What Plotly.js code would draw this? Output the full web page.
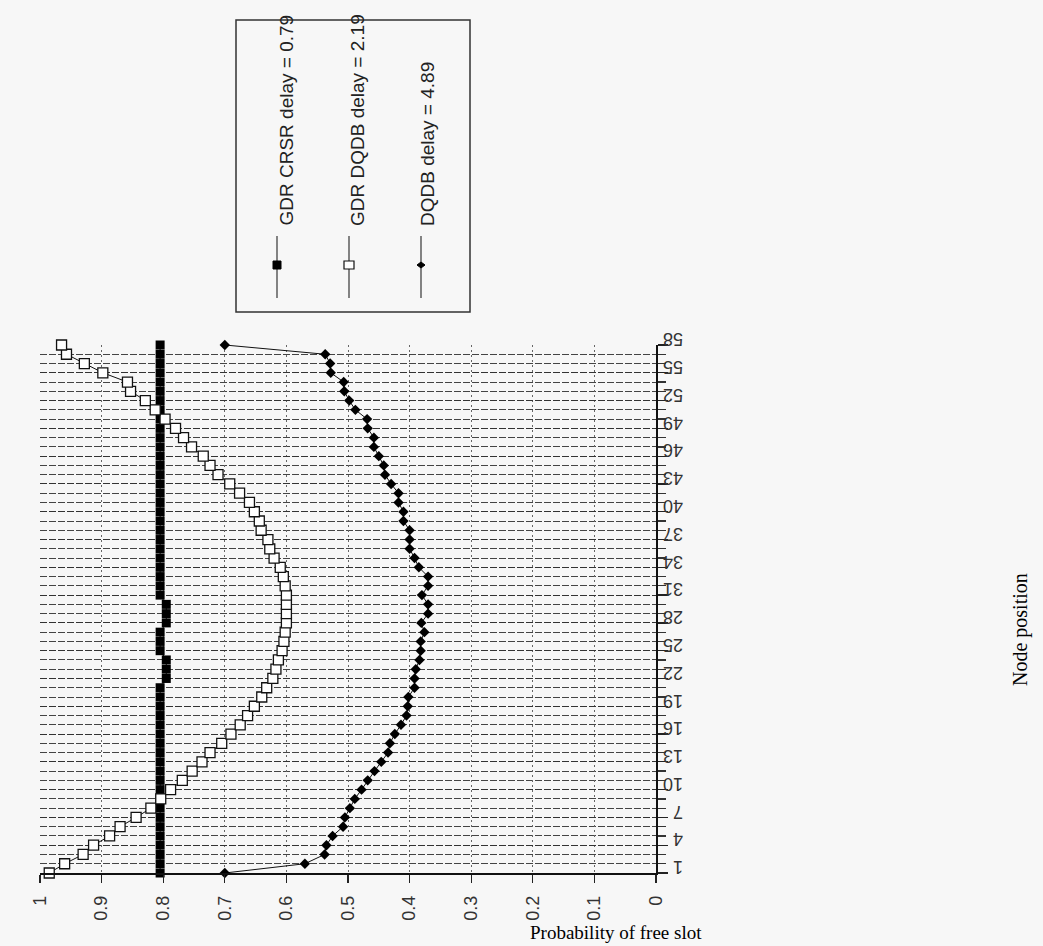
<!DOCTYPE html>
<html><head><meta charset="utf-8">
<script src="https://cdn.plot.ly/plotly-3.0.1.min.js"></script>
<style>html,body{margin:0;padding:0;background:#f7f7f7;}</style>
</head><body><div id="chart" style="width:1043px;height:946px;"></div>
<script>
// ---- data ----
const nodePosition = [1,2,3,4,5,6,7,8,9,10,11,12,13,14,15,16,17,18,19,20,21,22,23,24,25,26,27,28,29,30,31,32,33,34,35,36,37,38,39,40,41,42,43,44,45,46,47,48,49,50,51,52,53,54,55,56,57,58];
const gdrCrsr = [0.805,0.805,0.805,0.805,0.805,0.805,0.805,0.805,0.805,0.805,0.805,0.805,0.805,0.805,0.805,0.805,0.805,0.805,0.805,0.805,0.805,0.795,0.795,0.795,0.805,0.805,0.805,0.795,0.795,0.795,0.805,0.805,0.805,0.805,0.805,0.805,0.805,0.805,0.805,0.805,0.805,0.805,0.805,0.805,0.805,0.805,0.805,0.805,0.805,0.805,0.805,0.805,0.805,0.805,0.805,0.805,0.805,0.805];
const gdrDqdb = [0.985,0.96,0.93,0.913,0.887,0.87,0.844,0.82,0.804,0.788,0.769,0.753,0.737,0.724,0.705,0.69,0.675,0.663,0.652,0.64,0.632,0.622,0.617,0.613,0.607,0.604,0.602,0.60,0.60,0.60,0.60,0.602,0.605,0.61,0.62,0.627,0.63,0.641,0.644,0.652,0.66,0.676,0.692,0.711,0.724,0.735,0.754,0.767,0.78,0.797,0.813,0.829,0.853,0.858,0.898,0.928,0.957,0.965];
const dqdb = [0.70,0.57,0.538,0.535,0.525,0.508,0.505,0.497,0.489,0.478,0.468,0.457,0.446,0.435,0.432,0.424,0.414,0.405,0.403,0.402,0.392,0.392,0.39,0.384,0.382,0.382,0.376,0.381,0.37,0.37,0.38,0.37,0.37,0.385,0.392,0.40,0.40,0.40,0.41,0.41,0.418,0.418,0.43,0.44,0.442,0.45,0.458,0.458,0.468,0.469,0.488,0.498,0.506,0.507,0.528,0.529,0.537,0.70];
const seriesNames = ["GDR CRSR delay = 0.79", "GDR DQDB delay = 2.19", "DQDB delay = 4.89"];
const probTicks = [1,0.9,0.8,0.7,0.6,0.5,0.4,0.3,0.2,0.1,0];
const probTickText = ["1","0.9","0.8","0.7","0.6","0.5","0.4","0.3","0.2","0.1","0"];
const nodeTicks = [1,4,7,10,13,16,19,22,25,28,31,34,37,40,43,46,49,52,55,58];

// ---- layout geometry (pixels) ----
const W = 1043, H = 946;
const L = 40, R = 656, T = 345, B = 873;
const px = v => (v - L) / (R - L);
const py = v => (B - v) / (B - T);

const traces = [
  {x: gdrCrsr, y: nodePosition, mode: 'lines+markers', name: seriesNames[0], cliponaxis: false,
   line: {color: '#111', width: 1}, marker: {symbol: 'square', size: 9, color: '#000'}},
  {x: dqdb, y: nodePosition, mode: 'lines+markers', name: seriesNames[2], cliponaxis: false,
   line: {color: '#111', width: 1}, marker: {symbol: 'diamond', size: 8, color: '#000'}},
  {x: gdrDqdb, y: nodePosition, mode: 'lines+markers', name: seriesNames[1], cliponaxis: false,
   line: {color: '#111', width: 1}, marker: {symbol: 'square', size: 10, color: '#fff', line: {color: '#111', width: 1.3}}}
];

// legend drawn rotated, as in the scanned figure
const legCols = [277, 349, 421];
const shapes = [
  {type: 'rect', xref: 'paper', yref: 'paper', x0: px(236), x1: px(470), y0: py(20), y1: py(312),
   line: {color: '#333', width: 1.5}, fillcolor: 'rgba(0,0,0,0)'}
];
legCols.forEach(c => {
  shapes.push({type: 'line', xref: 'paper', yref: 'paper', x0: px(c), x1: px(c), y0: py(236), y1: py(298),
    line: {color: '#444', width: 1.3}});
});
shapes.push({type: 'rect', xref: 'paper', yref: 'paper', x0: px(legCols[0]-4), x1: px(legCols[0]+4), y0: py(269), y1: py(261),
  line: {color: '#000', width: 1}, fillcolor: '#000'});
shapes.push({type: 'rect', xref: 'paper', yref: 'paper', x0: px(legCols[1]-5), x1: px(legCols[1]+5), y0: py(269), y1: py(261),
  line: {color: '#111', width: 1.2}, fillcolor: '#fff'});
shapes.push({type: 'path', xref: 'paper', yref: 'paper',
  path: `M ${px(legCols[2]-4)} ${py(265)} L ${px(legCols[2])} ${py(262)} L ${px(legCols[2]+4)} ${py(265)} L ${px(legCols[2])} ${py(268)} Z`,
  line: {color: '#000', width: 1}, fillcolor: '#000'});

const legFont = {family: 'Liberation Sans Narrow, Arial Narrow, Liberation Sans, Arial, sans-serif', size: 19, color: '#222'};
const annotations = [
  {text: seriesNames[0], xref: 'paper', yref: 'paper', x: px(legCols[0] + 9), y: py(228), xanchor: 'center', yanchor: 'bottom', textangle: -90, showarrow: false, font: legFont},
  {text: seriesNames[1], xref: 'paper', yref: 'paper', x: px(legCols[1] + 9), y: py(228), xanchor: 'center', yanchor: 'bottom', textangle: -90, showarrow: false, font: legFont},
  {text: seriesNames[2], xref: 'paper', yref: 'paper', x: px(legCols[2] + 7), y: py(228), xanchor: 'center', yanchor: 'bottom', textangle: -90, showarrow: false, font: legFont},
  {text: 'Probability of free slot', xref: 'paper', yref: 'paper', x: px(528), y: py(932), xanchor: 'left', yanchor: 'middle', showarrow: false,
   font: {family: 'Liberation Serif, Times New Roman, serif', size: 19, color: '#000'}},
  {text: 'Node position', xref: 'paper', yref: 'paper', x: px(1020), y: py(630), xanchor: 'center', yanchor: 'middle', textangle: -90, showarrow: false,
   font: {family: 'Liberation Serif, Times New Roman, serif', size: 20, color: '#000'}}
];

const layout = {
  width: W, height: H,
  margin: {l: L, r: W - R, t: T, b: H - B, pad: 0},
  paper_bgcolor: '#f7f7f7', plot_bgcolor: '#f7f7f7',
  showlegend: false,
  xaxis: {
    range: [1, 0], tickmode: 'array', tickvals: probTicks, ticktext: probTickText,
    tickangle: -90, ticks: 'outside', ticklen: 8, tickcolor: '#222', tickwidth: 1.3,
    ticklabelstandoff: 6,
    showline: true, linecolor: '#111', linewidth: 1.5,
    showgrid: true, gridcolor: '#666', gridwidth: 1, griddash: '2px,3px',
    zeroline: false,
    tickfont: {family: 'Liberation Sans, Arial, sans-serif', size: 18, color: '#333'}
  },
  yaxis: {
    range: [1, 58], side: 'right', tickmode: 'array', tickvals: nodeTicks,
    tickangle: 180, ticks: 'outside', ticklen: 10, tickcolor: '#222', tickwidth: 1.3,
    ticklabelstandoff: 12,
    showline: true, linecolor: '#111', linewidth: 1.5,
    showgrid: true, gridcolor: '#333', gridwidth: 1, griddash: '7px,2px',
    zeroline: false,
    minor: {dtick: 1, tick0: 1, showgrid: true, gridcolor: '#444', gridwidth: 1, griddash: '7px,2px', ticks: 'outside', ticklen: 8, tickcolor: '#333'},
    tickfont: {family: 'Liberation Sans, Arial, sans-serif', size: 18, color: '#333'}
  },
  shapes: shapes,
  annotations: annotations
};

Plotly.newPlot('chart', traces, layout, {displayModeBar: false, staticPlot: true});
</script>
</body></html>
